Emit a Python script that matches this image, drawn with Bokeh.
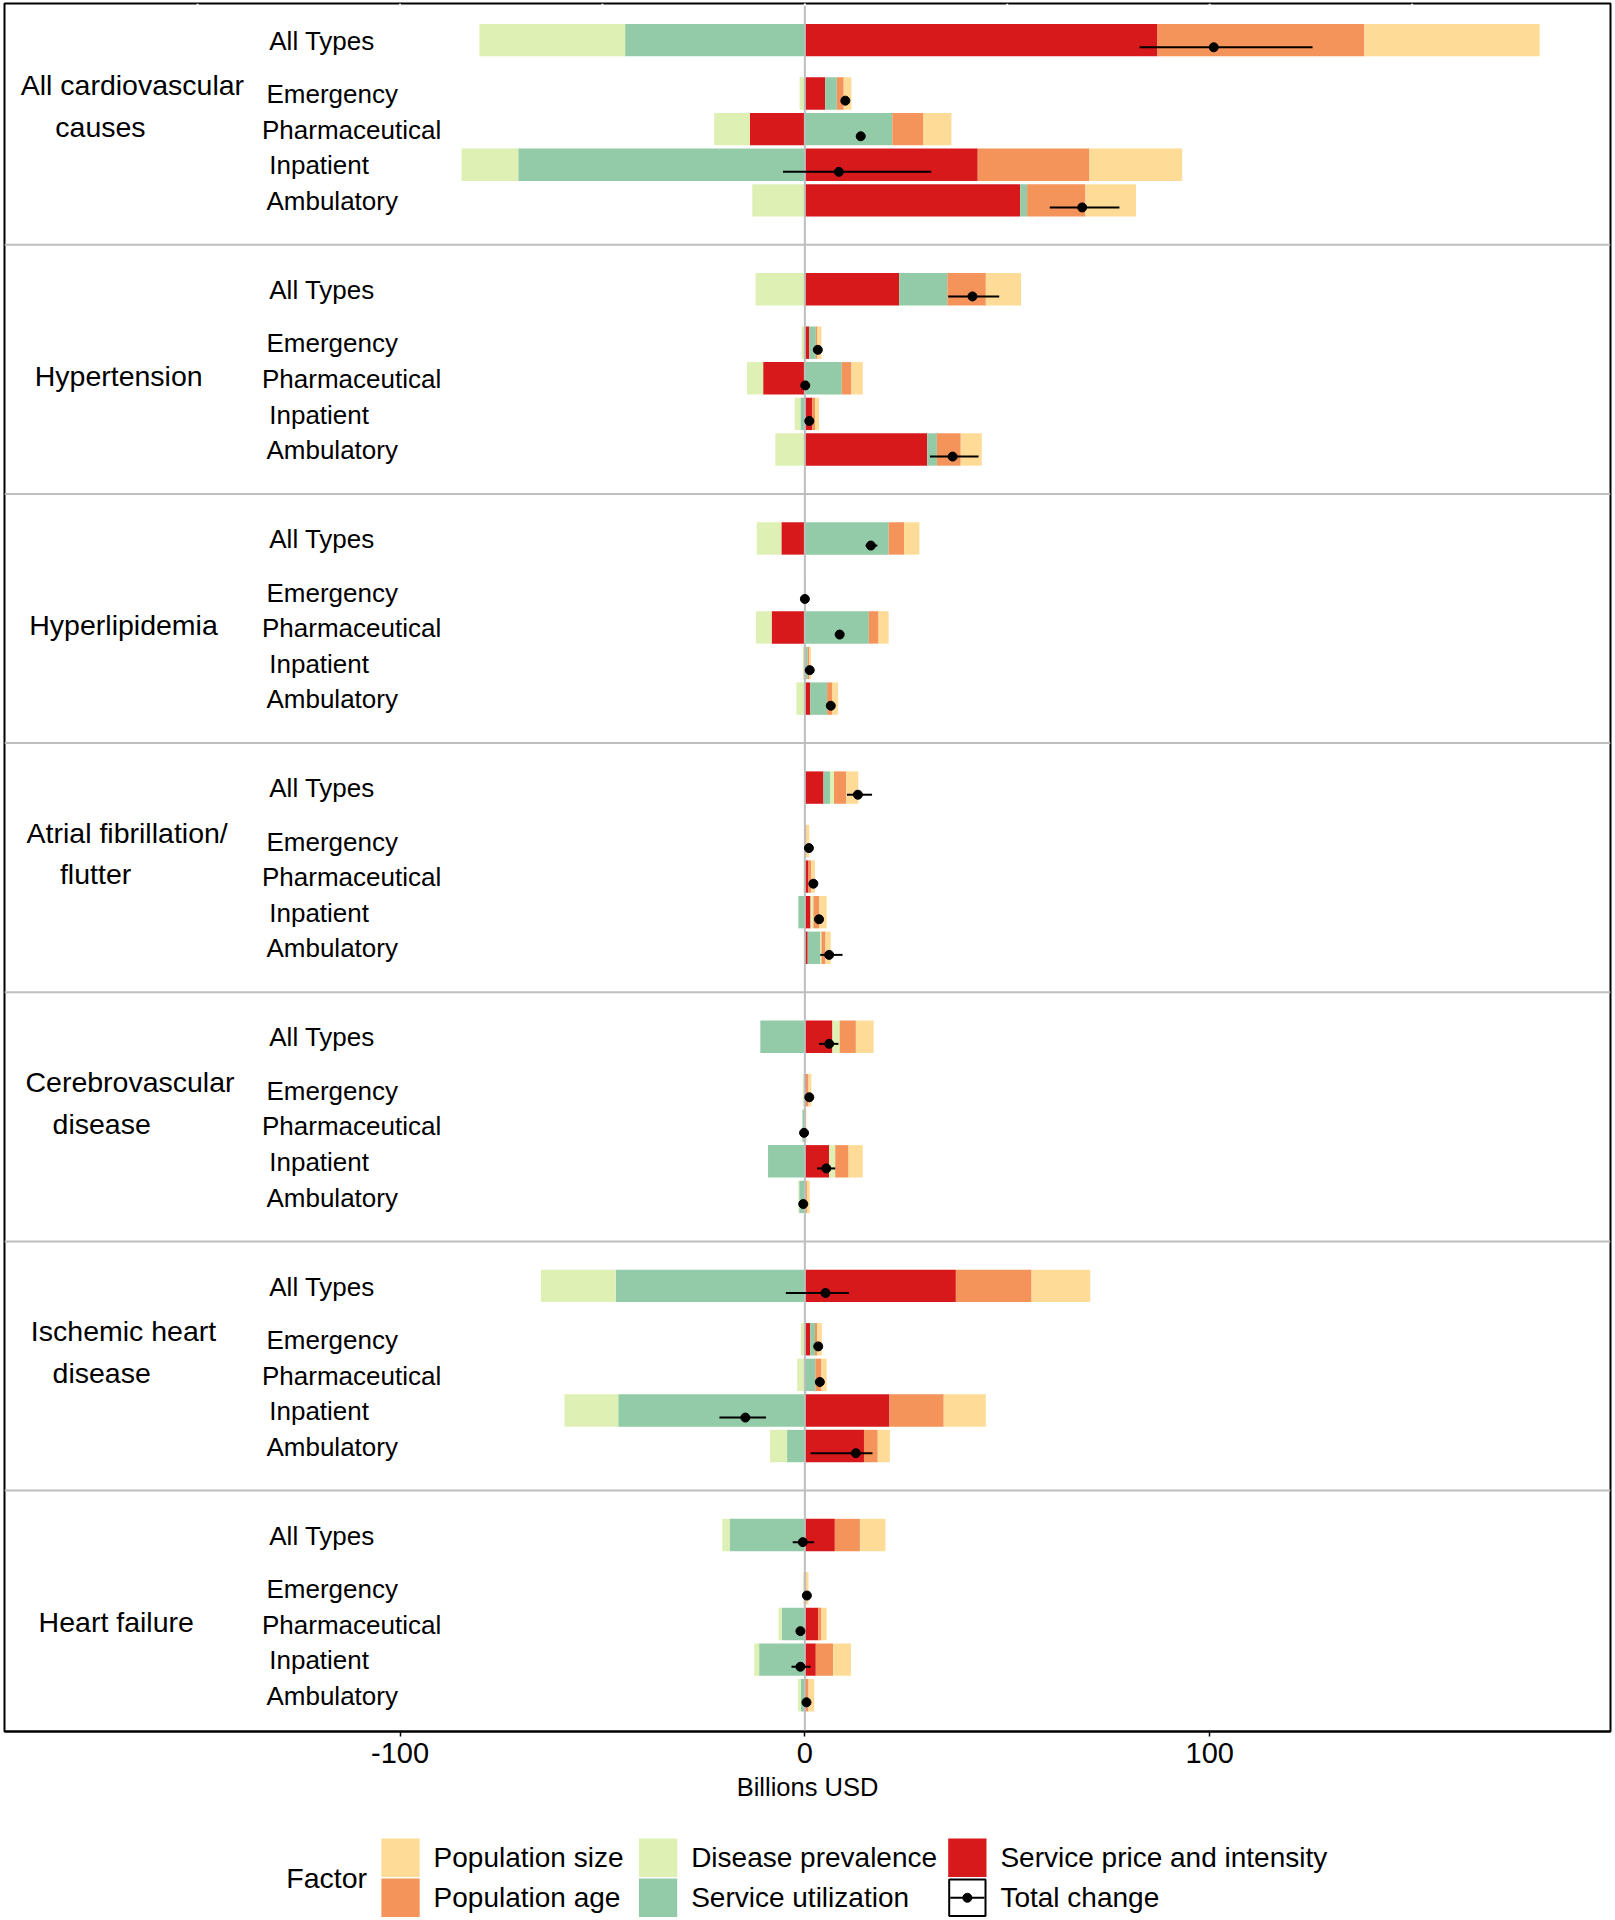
from bokeh.plotting import figure
from bokeh.models import Range1d, FixedTicker, Span
from bokeh.layouts import column
from bokeh.core.properties import value
from bokeh.embed import file_html
from bokeh.resources import INLINE

# ---------------- data ----------------
groups = ["All cardiovascular\ncauses", "Hypertension", "Hyperlipidemia",
          "Atrial fibrillation/\nflutter", "Cerebrovascular\ndisease",
          "Ischemic heart\ndisease", "Heart failure"]
types = ["All Types", "Emergency", "Pharmaceutical", "Inpatient", "Ambulatory"]
factors = ["Population size", "Population age", "Disease prevalence",
           "Service utilization", "Service price and intensity"]
factor_colors = ["#FEDC98", "#F4935A", "#DEF0B4", "#93CBA8", "#D7191C"]

# values in billions USD, 7 groups x 5 types (group-major)
service_price = [87.1, 5.0, -13.6, 42.7, 53.2,
                 23.3, 1.1, -10.3, 1.8, 30.2,
                 -5.8, 0.0, -8.2, 0.0, 1.3,
                 4.6, 0.1, 0.9, 1.4, 0.7,
                 6.8, 0.4, 0.0, 6.0, 0.1,
                 37.3, 1.3, 0.0, 20.9, 14.6,
                 7.4, 0.1, 3.3, 2.7, 0.2]
service_util = [-44.4, 2.9, 21.6, -70.8, 1.7,
                11.9, 1.6, 9.1, -1.1, 2.4,
                20.7, 0.0, 15.8, 0.7, 4.2,
                1.6, 0.0, 0.0, -1.6, 3.1,
                -11.0, -0.3, -0.6, -9.1, -1.4,
                -46.7, 1.2, 2.6, -46.1, -4.4,
                -18.6, -0.2, -5.7, -11.3, -1.0]
disease_prev = [-36.0, -1.3, -8.8, -14.0, -13.0,
                -12.2, -0.8, -4.0, -1.4, -7.3,
                -6.1, -0.15, -3.9, -0.5, -2.1,
                1.0, 0.0, -0.3, 0.7, 0.3,
                1.8, -0.2, 0.0, 1.5, -0.2,
                -18.5, -1.0, -1.9, -13.3, -4.2,
                -1.8, -0.2, -0.8, -1.2, -0.7]
pop_age = [51.1, 1.7, 7.7, 27.6, 14.4,
           9.5, 0.4, 2.4, 0.7, 5.9,
           3.8, 0.05, 2.4, 0.35, 1.3,
           3.0, 0.3, 0.7, 1.4, 1.0,
           4.0, 0.5, 0.15, 3.3, 0.4,
           18.7, 0.6, 1.5, 13.4, 3.4,
           6.2, 0.3, 0.8, 4.3, 0.7]
pop_size = [43.3, 1.9, 6.9, 22.9, 12.5,
            8.7, 1.0, 2.8, 1.0, 5.2,
            3.8, 0.1, 2.5, 0.45, 1.4,
            3.0, 0.7, 0.9, 1.9, 1.3,
            4.4, 0.7, 0.25, 3.5, 0.7,
            14.5, 1.1, 1.3, 10.4, 3.0,
            6.3, 0.5, 1.3, 4.4, 1.4]
total_change = [101.0, 10.0, 13.8, 8.4, 68.5,
                41.4, 3.2, 0.1, 1.1, 36.5,
                16.3, 0.0, 8.6, 1.2, 6.4,
                13.1, 1.0, 2.1, 3.5, 6.0,
                6.0, 1.1, -0.2, 5.3, -0.4,
                5.1, 3.3, 3.7, -14.7, 12.6,
                -0.5, 0.5, -1.1, -1.1, 0.4]
total_lo = [82.7, 10.0, 13.8, -5.4, 60.5,
            35.4, 3.2, 0.1, 1.1, 30.9,
            15.0, 0.0, 8.6, 1.2, 5.3,
            10.4, 1.0, 2.1, 3.5, 3.8,
            3.5, 1.1, -0.2, 3.0, -0.4,
            -4.7, 3.3, 3.7, -21.1, 1.4,
            -3.0, 0.5, -1.1, -3.3, 0.4]
total_hi = [125.4, 10.0, 13.8, 31.2, 77.7,
            48.0, 3.2, 0.1, 1.1, 42.9,
            17.9, 0.0, 8.6, 1.2, 7.4,
            16.6, 1.0, 2.1, 3.5, 9.3,
            8.3, 1.1, -0.2, 7.5, -0.4,
            10.9, 3.3, 3.7, -9.6, 16.7,
            2.3, 0.5, -1.1, 1.4, 0.4]
x_ticks = [-100, 0, 100]
x_tick_labels = ["-100", "0", "100"]
top_marks = [-150, -100, -50, 0, 50, 100, 150]
x_title = "Billions USD"
legend_title = "Factor"
total_label = "Total change"

# ---------------- layout ----------------
FONT = value("Liberation Sans")
PANEL = 7.0
ROW_OFF = [1.25, 2.75, 3.75, 4.75, 5.75]
BAR_H = 0.91
DOT_OFF = 0.2
Y_TOP, Y_BOT = 0.22, 48.77
X_MIN, X_MAX = -197.7, 199.0
TYPE_X = [-132.3, -133.0, -134.1, -132.3, -133.0]
GROUP_LINE_X = [[-166.1, -174.0], [-169.5], [-168.3], [-167.4, -175.2],
                [-166.7, -173.7], [-168.3, -173.7], [-170.1]]
W = 1615
MAIN_H = 1811
LH = 108

p = figure(width=W, height=MAIN_H, x_range=Range1d(X_MIN, X_MAX),
           y_range=Range1d(Y_BOT, Y_TOP), output_backend="svg",
           toolbar_location=None, y_axis_location=None,
           min_border_top=3, min_border_bottom=80, min_border_left=4,
           min_border_right=5)
p.xgrid.visible = False
p.ygrid.visible = False
p.outline_line_color = "black"
p.outline_line_width = 2
p.background_fill_color = "white"
p.border_fill_color = "white"

# row positions
ys = []
for g in range(len(groups)):
    for t in range(len(types)):
        ys.append(g * PANEL + ROW_OFF[t])

# stacking from zero outward: price, util, prevalence, age, size
stack_series = [service_price, service_util, disease_prev, pop_age, pop_size]
stack_colors = [factor_colors[4], factor_colors[3], factor_colors[2],
                factor_colors[1], factor_colors[0]]
n = len(ys)
pos = [0.0] * n
neg = [0.0] * n
for vals, col in zip(stack_series, stack_colors):
    lefts, rights = [], []
    for i, v in enumerate(vals):
        if v >= 0:
            lefts.append(pos[i]); rights.append(pos[i] + v); pos[i] += v
        else:
            rights.append(neg[i]); lefts.append(neg[i] + v); neg[i] += v
    p.hbar(y=ys, left=lefts, right=rights, height=BAR_H, fill_color=col,
           line_color=None)

# zero line
p.segment(x0=[0], x1=[0], y0=[Y_TOP - 1], y1=[Y_BOT + 1], line_color="#BEBEBE",
          line_width=2)

# small light marks on the top border
p.segment(x0=top_marks, x1=top_marks, y0=[Y_TOP] * len(top_marks),
          y1=[Y_TOP + 0.06] * len(top_marks), line_color="white", line_width=2)

# panel separators
for g in range(1, len(groups)):
    p.add_layout(Span(location=g * PANEL, dimension="width",
                      line_color="#BEBEBE", line_width=2))

# totals with intervals
yd = [y + DOT_OFF for y in ys]
p.segment(x0=total_lo, x1=total_hi, y0=yd, y1=yd, line_color="black",
          line_width=2)
p.scatter(x=total_change, y=yd, size=9, fill_color="black", line_color="black")

# type labels
tx, ty, tt = [], [], []
for g in range(len(groups)):
    for t in range(len(types)):
        tx.append(TYPE_X[t]); ty.append(g * PANEL + ROW_OFF[t] + 0.02)
        tt.append(types[t])
p.text(x=tx, y=ty, text=tt, text_font=FONT, text_font_size="26px",
       text_align="left", text_baseline="middle", text_color="black")

# group labels
gx, gy, gt = [], [], []
for g, name in enumerate(groups):
    lines = name.split("\n")
    k = len(lines)
    for j, line in enumerate(lines):
        gx.append(GROUP_LINE_X[g][j])
        gy.append(g * PANEL + 3.69 - (k - 1 - j) * 1.17)
        gt.append(line)
p.text(x=gx, y=gy, text=gt, text_font=FONT, text_font_size="28.5px",
       text_align="center", text_baseline="middle", text_color="black")

ax = p.xaxis[0]
ax.ticker = FixedTicker(ticks=x_ticks)
ax.major_label_overrides = {t: s for t, s in zip(x_ticks, x_tick_labels)}
ax.axis_label = x_title
ax.axis_label_text_font = "Liberation Sans"
ax.axis_label_text_font_size = "25.5px"
ax.axis_label_text_font_style = "normal"
ax.axis_label_text_color = "black"
ax.axis_label_standoff = 7
ax.major_label_text_font = "Liberation Sans"
ax.major_label_text_font_size = "29px"
ax.major_label_text_color = "black"
ax.major_label_standoff = 6
ax.axis_line_color = "black"
ax.axis_line_width = 2
ax.major_tick_line_color = "black"
ax.major_tick_line_width = 1.5
ax.major_tick_out = 5
ax.major_tick_in = 0
ax.minor_tick_line_color = None

# ---------------- legend figure ----------------
lg = figure(width=W, height=LH, x_range=Range1d(0, W), y_range=Range1d(LH, 0),
            output_backend="svg", toolbar_location=None, x_axis_location=None,
            y_axis_location=None, min_border=0)
lg.xgrid.visible = False
lg.ygrid.visible = False
lg.outline_line_color = None

KEY = 38.5
COL_X = [379, 638, 949]
ROW_Y = [27, 67]
leg_names = factors + [total_label]
leg_cols = factor_colors + ["white"]
kl, kr, kt, kb, kc, lx, ly = [], [], [], [], [], [], []
for i, (nm, c) in enumerate(zip(leg_names, leg_cols)):
    cx = COL_X[i // 2]; ry = ROW_Y[i % 2]
    kl.append(cx); kr.append(cx + KEY); kt.append(ry); kb.append(ry + KEY)
    kc.append(c); lx.append(cx + KEY + 14); ly.append(ry + KEY / 2)
lg.quad(left=kl[:5], right=kr[:5], top=kt[:5], bottom=kb[:5], fill_color=kc[:5],
        line_color=None)
lg.quad(left=[kl[5] + 1], right=[kr[5] - 1], top=[kt[5] + 1], bottom=[kb[5] - 1],
        fill_color="white", line_color="black", line_width=2)
lg.segment(x0=[kl[5] + 2], x1=[kr[5] - 2], y0=[ly[5]], y1=[ly[5]],
           line_color="black", line_width=2)
lg.scatter(x=[(kl[5] + kr[5]) / 2], y=[ly[5]], size=9, fill_color="black",
           line_color="black")
lg.text(x=lx, y=ly, text=leg_names, text_font=FONT, text_font_size="28px",
        text_align="left", text_baseline="middle", text_color="black")
lg.text(x=[324], y=[(ROW_Y[0] + ROW_Y[1] + KEY) / 2], text=[legend_title],
        text_font=FONT, text_font_size="28.5px", text_align="center",
        text_baseline="middle", text_color="black")

layout = column(p, lg, spacing=0)
open("out.html", "w").write(file_html(layout, INLINE))
